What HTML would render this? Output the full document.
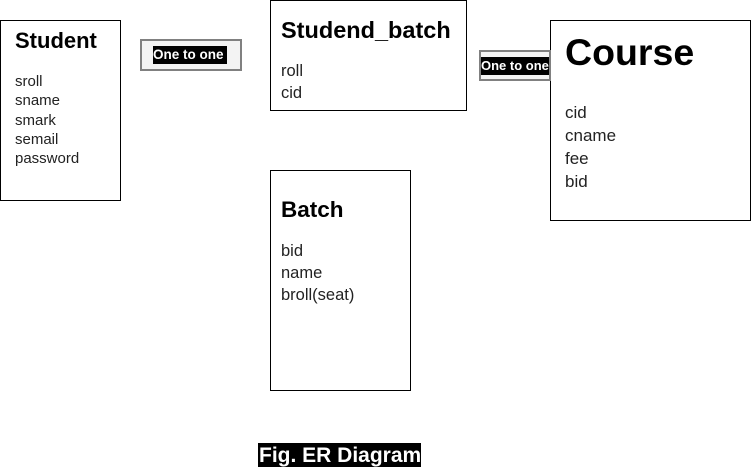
<!DOCTYPE html>
<html><head><style>
body{margin:0;width:751px;height:471px;background:#fff;position:relative;overflow:hidden;font-family:"Liberation Sans",Arial,sans-serif;color:#222}
.b{position:absolute;border:1px solid #000;box-sizing:border-box;background:#fff}
.t{position:absolute;font-weight:bold;color:#000;white-space:nowrap}
.a{position:absolute;white-space:nowrap}
.r{position:absolute;border:2px solid #808080;background:#f3f3f3;box-sizing:border-box}
.l{position:absolute;background:#000;color:#fff;font-weight:bold;font-size:13.5px;line-height:18px;white-space:nowrap}
</style></head><body>
<div class="b" style="left:0;top:20px;width:121px;height:181px"></div>
<div class="t" style="left:15px;top:28px;font-size:22px;line-height:26px">Student</div>
<div class="a" style="left:15px;top:72px;font-size:15px;line-height:19.3px">sroll<br>sname<br>smark<br>semail<br>password</div>

<div class="b" style="left:270px;top:0;width:197px;height:111px"></div>
<div class="t" style="left:281px;top:16px;font-size:23.5px;line-height:28px">Studend_batch</div>
<div class="a" style="left:281px;top:60px;font-size:16.5px;line-height:22px">roll<br>cid</div>

<div class="b" style="left:550px;top:20px;width:201px;height:201px"></div>
<div class="t" style="left:565px;top:30px;font-size:37.5px;line-height:44px">Course</div>
<div class="a" style="left:565px;top:101px;font-size:17px;line-height:23px">cid<br>cname<br>fee<br>bid</div>

<div class="b" style="left:270px;top:170px;width:141px;height:221px"></div>
<div class="t" style="left:281px;top:196px;font-size:22.5px;line-height:28px">Batch</div>
<div class="a" style="left:281px;top:240px;font-size:16.5px;line-height:22px">bid<br>name<br>broll(seat)</div>

<div class="r" style="left:140px;top:39px;width:102px;height:32px"></div>
<div class="l" style="left:153px;top:46px;width:74px;overflow:hidden;padding:0">One to one</div>
<div class="r" style="left:479px;top:50px;width:72px;height:31px"></div>
<div class="l" style="left:481px;top:57px;font-size:13px;width:68px;overflow:hidden">One to one</div>

<div class="t" style="left:258px;top:443px;height:24px;background:#000;color:#fff;font-size:21px;line-height:26px;padding:0 1px;width:161px;overflow:hidden">Fig. ER Diagram</div>
</body></html>
